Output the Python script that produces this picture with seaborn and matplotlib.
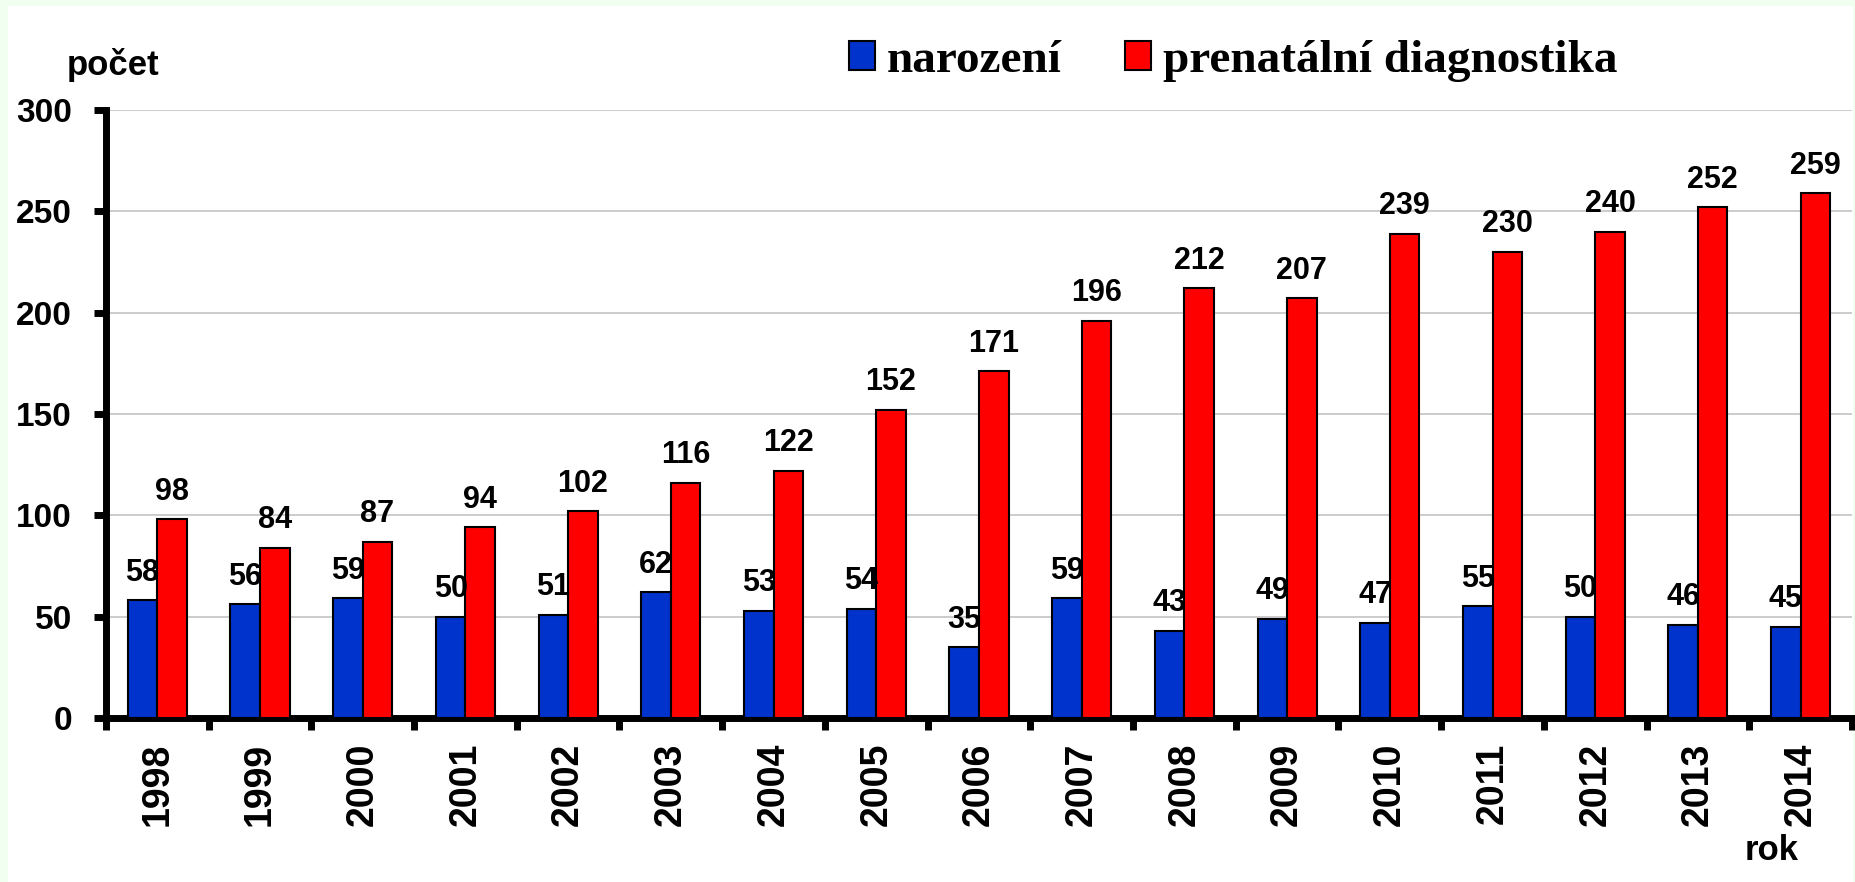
import numpy as np
import pandas as pd
import matplotlib
matplotlib.use('Agg')
import matplotlib.pyplot as plt
from matplotlib.patches import Rectangle
from matplotlib.ticker import FixedLocator
import seaborn as sns

#%% data
roky = [str(r) for r in range(1998, 2015)]
narozeni = [58, 56, 59, 50, 51, 62, 53, 54, 35, 59, 43, 49, 47, 55, 50, 46, 45]
prenatalni = [98, 84, 87, 94, 102, 116, 122, 152, 171, 196, 212, 207, 239, 230, 240, 252, 259]
skupiny = ['narození', 'prenatální diagnostika']
barvy = ['#0033cc', '#ff0000']

df = pd.DataFrame({'rok': roky * 2,
                   'pocet': narozeni + prenatalni,
                   'skupina': [skupiny[0]] * len(roky) + [skupiny[1]] * len(roky)})

#%% style
sns.set_style('white')
plt.rcParams['font.family'] = ['Liberation Sans', 'DejaVu Sans']
plt.rcParams['font.weight'] = 'bold'
plt.rcParams['text.color'] = 'black'
plt.rcParams['xtick.color'] = 'black'
plt.rcParams['ytick.color'] = 'black'

fig = plt.figure(figsize=(18.55, 8.82), dpi=100, facecolor='#f0fff0')
fig.patches.append(Rectangle((8 / 1855, 0), 1845 / 1855, 876 / 882,
                             transform=fig.transFigure, facecolor='white',
                             edgecolor='none', zorder=-5))
ax = fig.add_axes([0.0571, 0.186, 0.9413, 0.6893])
ax.set_facecolor('white')

sns.barplot(data=df, x='rok', y='pocet', hue='skupina', hue_order=skupiny,
            palette=barvy, width=0.575, edgecolor='black', linewidth=1.5,
            saturation=1, legend=False, ax=ax, zorder=3)

for c in ax.containers:
    ax.bar_label(c, padding=9, fontsize=22, fontweight='bold', color='black')

ax.set_ylim(0, 300)
ax.set_xlim(-0.5, len(roky) - 0.5)
ax.set_yticks(range(0, 301, 50))
ax.yaxis.grid(True, color='#c8c8c8', linewidth=1.3, zorder=0)
ax.set_axisbelow(True)

for s in ['top', 'right']:
    ax.spines[s].set_visible(False)
for s in ['left', 'bottom']:
    ax.spines[s].set_linewidth(5)
    ax.spines[s].set_color('black')

ax.tick_params(axis='y', direction='out', length=8.5, width=5, pad=16,
               labelsize=24, left=True)
ax.tick_params(axis='x', which='major', length=0, pad=18, labelsize=27,
               labelrotation=90)
ax.xaxis.set_minor_locator(FixedLocator(np.arange(-0.5, len(roky), 1)))
ax.tick_params(axis='x', which='minor', direction='out', length=8.5, width=5,
               bottom=True)
for lab in ax.get_xticklabels() + ax.get_yticklabels():
    lab.set_fontweight('bold')
ax.set_xlabel('')
ax.set_ylabel('')

fig.text(67 / 1855, 1 - 75 / 882, 'počet', fontsize=25, fontweight='bold',
         va='baseline', ha='left')
fig.text(1745 / 1855, 1 - 860 / 882, 'rok', fontsize=25, fontweight='bold',
         va='baseline', ha='left')

# legenda nahore
leg = fig.legend(ax.containers, skupiny, loc='center left',
                 bbox_to_anchor=(849 / 1855, 1 - 61 / 882), ncol=2, frameon=False,
                 prop={'family': ['Liberation Serif', 'DejaVu Serif'],
                       'weight': 'bold', 'size': 34},
                 handlelength=0.55, handleheight=0.55, handletextpad=0.25,
                 columnspacing=1.35, borderpad=0, borderaxespad=0)
for t in leg.get_texts():
    t.set_color('black')

fig.savefig('out.png', dpi=100, facecolor=fig.get_facecolor())
